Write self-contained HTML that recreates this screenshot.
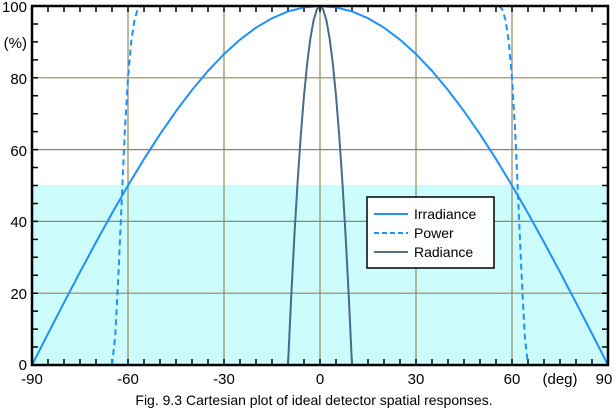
<!DOCTYPE html>
<html><head><meta charset="utf-8"><style>
body{margin:0;background:#fff;width:616px;height:410px;overflow:hidden}
svg{display:block;font-family:"Liberation Sans",Arial,sans-serif}
</style></head><body>
<svg width="616" height="410" viewBox="0 0 616 410">
<rect x="32" y="185" width="576" height="180" fill="#ccfcfc"/>
<g stroke="#8b8a62" stroke-width="1.2">
<line x1="128" y1="6" x2="128" y2="365"/><line x1="224" y1="6" x2="224" y2="365"/>
<line x1="320" y1="6" x2="320" y2="365"/><line x1="416" y1="6" x2="416" y2="365"/>
<line x1="512" y1="6" x2="512" y2="365"/>
<line x1="32" y1="293.2" x2="608" y2="293.2"/><line x1="32" y1="221.4" x2="608" y2="221.4"/>
<line x1="32" y1="149.6" x2="608" y2="149.6"/><line x1="32" y1="77.8" x2="608" y2="77.8"/>
</g>
<g stroke="#000" stroke-width="6">
<line x1="31.25" y1="362" x2="608" y2="362" stroke-dasharray="1.5 14.5"/>
<line x1="31.25" y1="9" x2="608" y2="9" stroke-dasharray="1.5 14.5"/>
<line x1="35" y1="365.75" x2="35" y2="6" stroke-dasharray="1.5 16.45"/>
<line x1="605" y1="365.75" x2="605" y2="6" stroke-dasharray="1.5 16.45"/>
</g>
<g transform="translate(320,365) scale(3.2,-3.59)" fill="none">
<path vector-effect="non-scaling-stroke" stroke="#1e90ff" stroke-width="2" d="M-90,0 L-85,8.72 L-80,17.36 L-75,25.88 L-70,34.2 L-65,42.26 L-60,50 L-55,57.36 L-50,64.28 L-45,70.71 L-40,76.6 L-35,81.92 L-30,86.6 L-25,90.63 L-20,93.97 L-15,96.59 L-10,98.48 L-5,99.62 L0,100 L5,99.62 L10,98.48 L15,96.59 L20,93.97 L25,90.63 L30,86.6 L35,81.92 L40,76.6 L45,70.71 L50,64.28 L55,57.36 L60,50 L65,42.26 L70,34.2 L75,25.88 L80,17.36 L85,8.72 L90,0"/>
<path vector-effect="non-scaling-stroke" stroke="#1e90ff" stroke-width="2" stroke-dasharray="6,4" d="M-65,0 L-64,8 L-63,25 L-62,45 L-61,65 L-60,80 L-59,90 L-58,96 L-57,99 L-56,100 L56,100 L57,99 L58,96 L59,90 L60,80 L61,65 L62,45 L63,25 L64,8 L65,0"/>
<path vector-effect="non-scaling-stroke" stroke="#4a6a8a" stroke-width="2" d="M-10,0 L-9,19 L-8,36 L-7,51 L-6,64 L-5,75 L-4,84 L-3,91 L-2,96 L-1,99 L0,100 L1,99 L2,96 L3,91 L4,84 L5,75 L6,64 L7,51 L8,36 L9,19 L10,0"/>
</g>
<rect x="32" y="6" width="576" height="359" fill="none" stroke="#000" stroke-width="2.5"/>
<rect x="367" y="197" width="127" height="71" fill="#fff" stroke="#000" stroke-width="1.5"/>
<line x1="374" y1="214" x2="408" y2="214" stroke="#1e90ff" stroke-width="2"/>
<line x1="374" y1="233" x2="408" y2="233" stroke="#1e90ff" stroke-width="2" stroke-dasharray="5,3"/>
<line x1="374" y1="252" x2="408" y2="252" stroke="#5a6f80" stroke-width="2"/>
<g font-size="14" fill="#000">
<text x="414" y="219">Irradiance</text>
<text x="414" y="238">Power</text>
<text x="414" y="257">Radiance</text>
</g>
<g font-size="15" fill="#000" text-anchor="end">
<text x="27" y="12">100</text>
<text x="27" y="48">(%)</text>
<text x="27" y="84">80</text>
<text x="27" y="156">60</text>
<text x="27" y="227">40</text>
<text x="27" y="299">20</text>
<text x="27" y="370">0</text>
</g>
<g font-size="15" fill="#000" text-anchor="middle">
<text x="32" y="384">-90</text>
<text x="128" y="384">-60</text>
<text x="224" y="384">-30</text>
<text x="320" y="384">0</text>
<text x="416" y="384">30</text>
<text x="512" y="384">60</text>
<text x="560" y="384">(deg)</text>
<text x="604" y="384">90</text>
</g>
<text x="314" y="405" font-size="14" text-anchor="middle" fill="#000">Fig. 9.3  Cartesian plot of ideal detector spatial responses.</text>
</svg>
</body></html>
